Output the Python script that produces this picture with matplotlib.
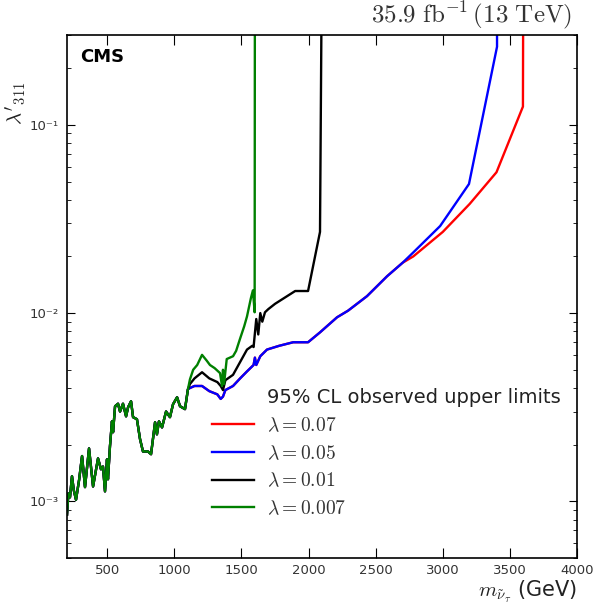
import matplotlib
matplotlib.use("Agg")
import matplotlib.pyplot as plt
from matplotlib.font_manager import FontProperties
from matplotlib.lines import Line2D
from matplotlib.ticker import LogLocator, FixedLocator, NullFormatter

# shared low-mass part (all four limits practically overlap here)
low_mass = [200, 210, 222, 237, 250, 267, 290, 312, 334, 364, 394, 431, 453, 468, 483, 498,
            505, 520, 535, 543, 558, 580, 595, 617, 640, 655, 677, 692, 721, 744, 766, 803,
            826, 856, 870, 885, 908, 938, 967, 990, 1020, 1042, 1079, 1101]
low_limit = [8.5e-4, 1.1e-3, 1.05e-3, 1.36e-3, 1.15e-3, 1.02e-3, 1.3e-3, 1.74e-3, 1.19e-3,
             1.91e-3, 1.2e-3, 1.69e-3, 1.48e-3, 1.53e-3, 1.13e-3, 1.67e-3, 1.31e-3, 1.96e-3,
             2.66e-3, 2.33e-3, 3.2e-3, 3.3e-3, 3.0e-3, 3.3e-3, 2.83e-3, 3.16e-3, 3.4e-3, 2.8e-3,
             2.73e-3, 2.14e-3, 1.84e-3, 1.84e-3, 1.78e-3, 2.63e-3, 2.27e-3, 2.66e-3, 2.47e-3,
             3.0e-3, 2.8e-3, 3.28e-3, 3.57e-3, 3.2e-3, 3.09e-3, 3.94e-3]

# lambda = 0.07 and 0.05 coincide up to ~2700 GeV
wide_mass = [1116, 1150, 1206, 1260, 1320, 1345, 1362, 1380, 1437, 1490, 1541, 1590, 1600,
             1610, 1640, 1690, 1780, 1885, 1996, 2085, 2212, 2294, 2435, 2585, 2700]
wide_limit = [4.0e-3, 4.1e-3, 4.1e-3, 3.85e-3, 3.7e-3, 3.5e-3, 3.6e-3, 3.9e-3, 4.1e-3, 4.5e-3,
              4.9e-3, 5.3e-3, 5.8e-3, 5.3e-3, 5.9e-3, 6.4e-3, 6.7e-3, 7.0e-3, 7.0e-3, 7.9e-3,
              9.5e-3, 1.03e-2, 1.23e-2, 1.57e-2, 1.85e-2]

red_tail_mass = [2780, 3000, 3200, 3400, 3597, 3600]
red_tail_limit = [2.0e-2, 2.7e-2, 3.8e-2, 5.6e-2, 0.125, 1.0]

blue_tail_mass = [2780, 2980, 3195, 3404, 3404]
blue_tail_limit = [2.1e-2, 2.9e-2, 4.85e-2, 0.26, 1.0]

black_mass = [1116, 1150, 1206, 1260, 1320, 1345, 1362, 1380, 1437, 1490, 1541, 1580, 1590,
              1610, 1625, 1640, 1655, 1675, 1700, 1750, 1900, 1996, 2085, 2100]
black_limit = [4.2e-3, 4.5e-3, 4.85e-3, 4.5e-3, 4.3e-3, 4.1e-3, 3.9e-3, 4.4e-3, 4.7e-3, 5.5e-3,
               6.4e-3, 6.7e-3, 6.6e-3, 9.3e-3, 7.7e-3, 1.0e-2, 9.0e-3, 1.01e-2, 1.05e-2, 1.12e-2,
               1.31e-2, 1.31e-2, 2.7e-2, 1.0]

green_mass = [1116, 1140, 1170, 1206, 1240, 1265, 1300, 1340, 1355, 1362, 1370, 1390, 1437,
              1460, 1489, 1520, 1541, 1570, 1585, 1598, 1600]
green_limit = [4.45e-3, 5.0e-3, 5.3e-3, 6.0e-3, 5.6e-3, 5.3e-3, 5.1e-3, 4.8e-3, 4.1e-3, 5.0e-3,
               4.2e-3, 5.7e-3, 5.9e-3, 6.3e-3, 7.3e-3, 8.5e-3, 9.6e-3, 1.2e-2, 1.32e-2, 1.01e-2, 1.0]

labels = [r"$\lambda=0.07$", r"$\lambda=0.05$", r"$\lambda=0.01$", r"$\lambda=0.007$"]
colors = ["red", "blue", "black", "green"]

x_ticks = [500, 1000, 1500, 2000, 2500, 3000, 3500, 4000]
y_major = [1e-3, 1e-2, 1e-1]
y_major_labels = ["10\u207b\u00b3", "10\u207b\u00b2", "10\u207b\u00b9"]

series = [
    (low_mass + wide_mass + red_tail_mass, low_limit + wide_limit + red_tail_limit),
    (low_mass + wide_mass + blue_tail_mass, low_limit + wide_limit + blue_tail_limit),
    (low_mass + black_mass, low_limit + black_limit),
    (low_mass + green_mass, low_limit + green_limit),
]

fig = plt.figure(figsize=(6.0, 6.06), dpi=100)
ax = fig.add_axes([0.1117, 0.0792, 0.85, 0.863])

handles = []
for (m, lim), c, lab in zip(series, colors, labels):
    h, = ax.plot(m, lim, color=c, lw=1.7, label=lab)
    handles.append(h)

ax.set_yscale("log")
ax.set_xlim(200, 4000)
ax.set_ylim(5e-4, 0.3)

ax.set_xticks(x_ticks)
ax.set_xticklabels([str(t) for t in x_ticks])
ax.yaxis.set_major_locator(FixedLocator(y_major))
ax.set_yticklabels(y_major_labels)
ax.yaxis.set_minor_locator(LogLocator(base=10, subs=range(2, 10), numticks=20))
ax.yaxis.set_minor_formatter(NullFormatter())

ax.tick_params(which="both", direction="in", top=True, right=True, labelsize=9.5,
               labelcolor="#333333")
ax.tick_params(axis="x", which="major", length=7, pad=4)
ax.tick_params(axis="y", which="major", length=6, pad=6)
ax.tick_params(axis="y", which="minor", length=3)
for sp in ax.spines.values():
    sp.set_linewidth(1.2)

ax.set_xlabel(r"$m_{\tilde{\nu}_\tau}$ (GeV)", fontsize=15, loc="right", color="#222222",
              math_fontfamily="cm", labelpad=2)
ax.set_ylabel(r"$\lambda'_{311}$", fontsize=15, color="#222222", math_fontfamily="cm")
ax.yaxis.set_label_coords(-0.074, 0.87)

ax.text(0.025, 0.975, "CMS", transform=ax.transAxes, fontsize=13, fontweight="bold",
        ha="left", va="top")
ax.text(0.99, 1.008, r"$35.9\ \mathrm{fb}^{-1}\,(13\ \mathrm{TeV})$", transform=ax.transAxes,
        fontsize=18, ha="right", va="bottom", color="#333333", math_fontfamily="cm")

# title as an entry with an invisible handle so it lines up with the labels
blank = Line2D([], [], color="none")
leg_prop = FontProperties(size=14, math_fontfamily="cm")
leg = ax.legend(handles=[blank] + handles, labels=["95% CL observed upper limits"] + labels,
                loc="lower right", bbox_to_anchor=(0.968, 0.076), frameon=False,
                prop=leg_prop, handlelength=2.2, handletextpad=0.65,
                labelspacing=0.45, borderaxespad=0.0, borderpad=0.0)
texts = leg.get_texts()
texts[0].set_color("#222222")
for t in texts[1:]:
    t.set_color("#333333")

fig.savefig("out.png", dpi=100)
